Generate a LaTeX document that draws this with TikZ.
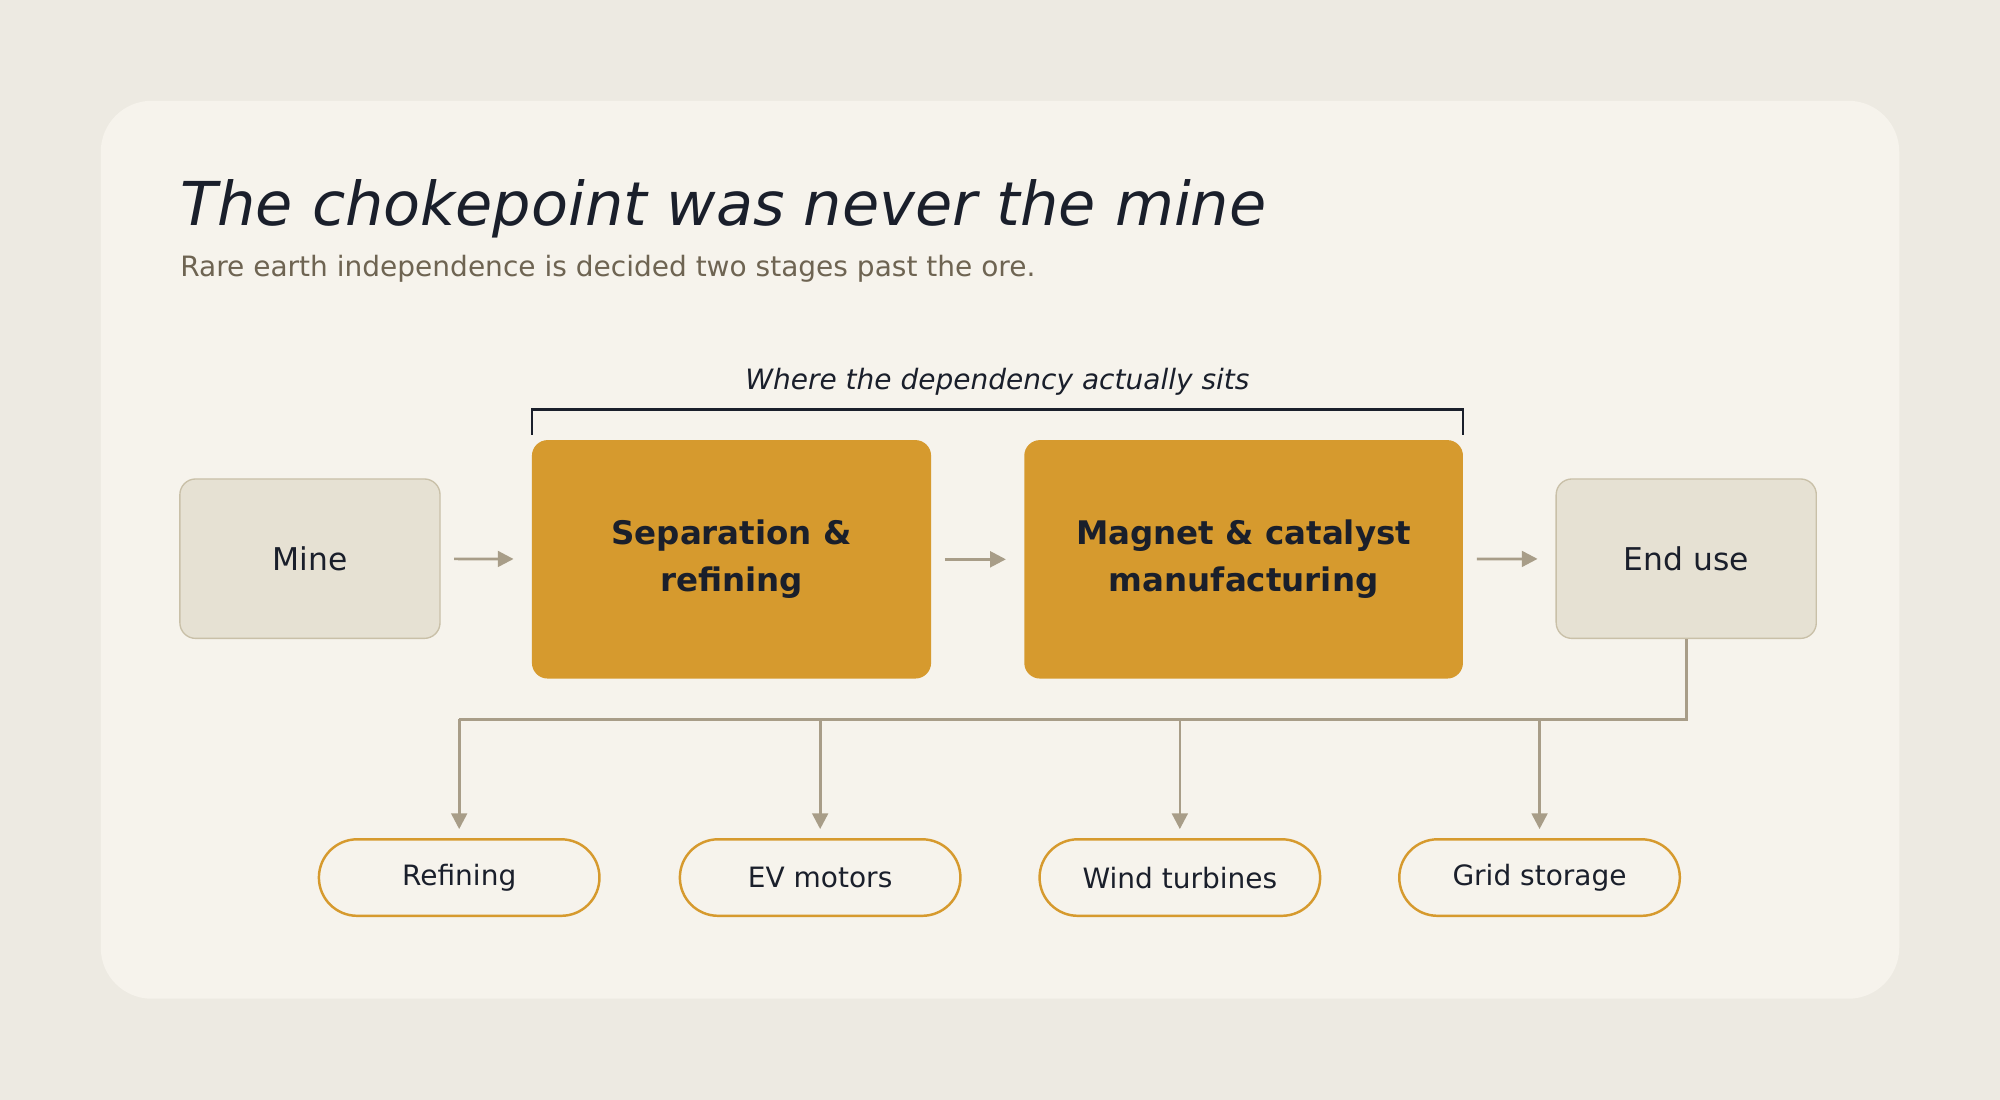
\documentclass[tikz,border=0pt]{standalone}
\usepackage{fontspec}
\setmainfont{DejaVu Sans}
\usetikzlibrary{positioning,arrows.meta}
\definecolor{pagebg}{HTML}{EDEAE2}
\definecolor{cardbg}{HTML}{F6F3EC}
\definecolor{ink}{HTML}{1A1F2B}
\definecolor{muted}{HTML}{6E6452}
\definecolor{stone}{HTML}{E6E1D3}
\definecolor{stoneline}{HTML}{C9C0A8}
\definecolor{amber}{HTML}{D69A2E}
\definecolor{wire}{HTML}{A89D88}
\tikzset{
  plain/.style={draw=stoneline,fill=stone,rounded corners=7pt,line width=0.6pt,
    minimum width=4.08cm,minimum height=2.5cm,font=\fontsize{14}{17}\selectfont,text=ink},
  hot/.style={fill=amber,rounded corners=7pt,minimum height=3.74cm,
    font=\bfseries\fontsize{14.5}{21}\selectfont,text=ink,align=center},
  use/.style={draw=amber,fill=cardbg,rounded corners=0.6cm,line width=1.1pt,
    minimum width=4.4cm,minimum height=1.2cm,font=\fontsize{12.5}{15}\selectfont,text=ink},
  flow/.style={draw=wire,line width=1.2pt,-{Triangle[length=7pt,width=7pt]}}
}
\begin{document}
\begin{tikzpicture}[x=0.02cm,y=-0.02cm]
  \fill[pagebg] (0,0) rectangle (1568,862);
  \fill[cardbg,rounded corners=0.8cm] (79,79) rectangle (1489,783);
  \node[anchor=base west,inner sep=0,text=ink,font=\itshape\fontsize{27}{32}\selectfont] (title) at (141,177) {The chokepoint was never the mine};
  \node[anchor=west,inner sep=0,text=muted,font=\fontsize{12.5}{15}\selectfont] (sub) at (141,211) {Rare earth independence is decided two stages past the ore.};

  \node[plain] (mine) at (243,438) {Mine};
  \node[hot,minimum width=6.26cm] (sep) at (573.5,438.5) {Separation \&\\refining};
  \node[hot,minimum width=6.88cm] (mag) at (975,438.5) {Magnet \& catalyst\\manufacturing};
  \node[plain] (end) at (1322,438) {End use};

  \draw[flow,shorten <=6pt,shorten >=8pt] (mine) -- (sep);
  \draw[flow,shorten <=6pt,shorten >=8pt] (sep) -- (mag);
  \draw[flow,shorten <=6pt,shorten >=8pt] (mag) -- (end);

  % bracket over the two hot stages
  \coordinate (bl) at (417,341);
  \coordinate (br) at (1147,341);
  \draw[ink,line width=1pt] (bl) -- ++(0,-20) -| (br);
  \node[text=ink,font=\itshape\fontsize{12.5}{15}\selectfont] (dep) at (782,299) {Where the dependency actually sits};

  \foreach \name/\x/\txt in {ref/360/Refining,ev/643/EV motors,wind/925/Wind turbines,grid/1207/Grid storage}{
    \node[use] (\name) at (\x,688) {\txt};
  }
  \coordinate (bus) at (1322,564);
  \draw[wire,line width=1.2pt] (end.south) -- (bus) -- (360,564);
  \foreach \name in {ref,ev,wind,grid}{
    \draw[flow,shorten >=4pt] (\name |- bus) -- (\name.north);
  }
\end{tikzpicture}
\end{document}
